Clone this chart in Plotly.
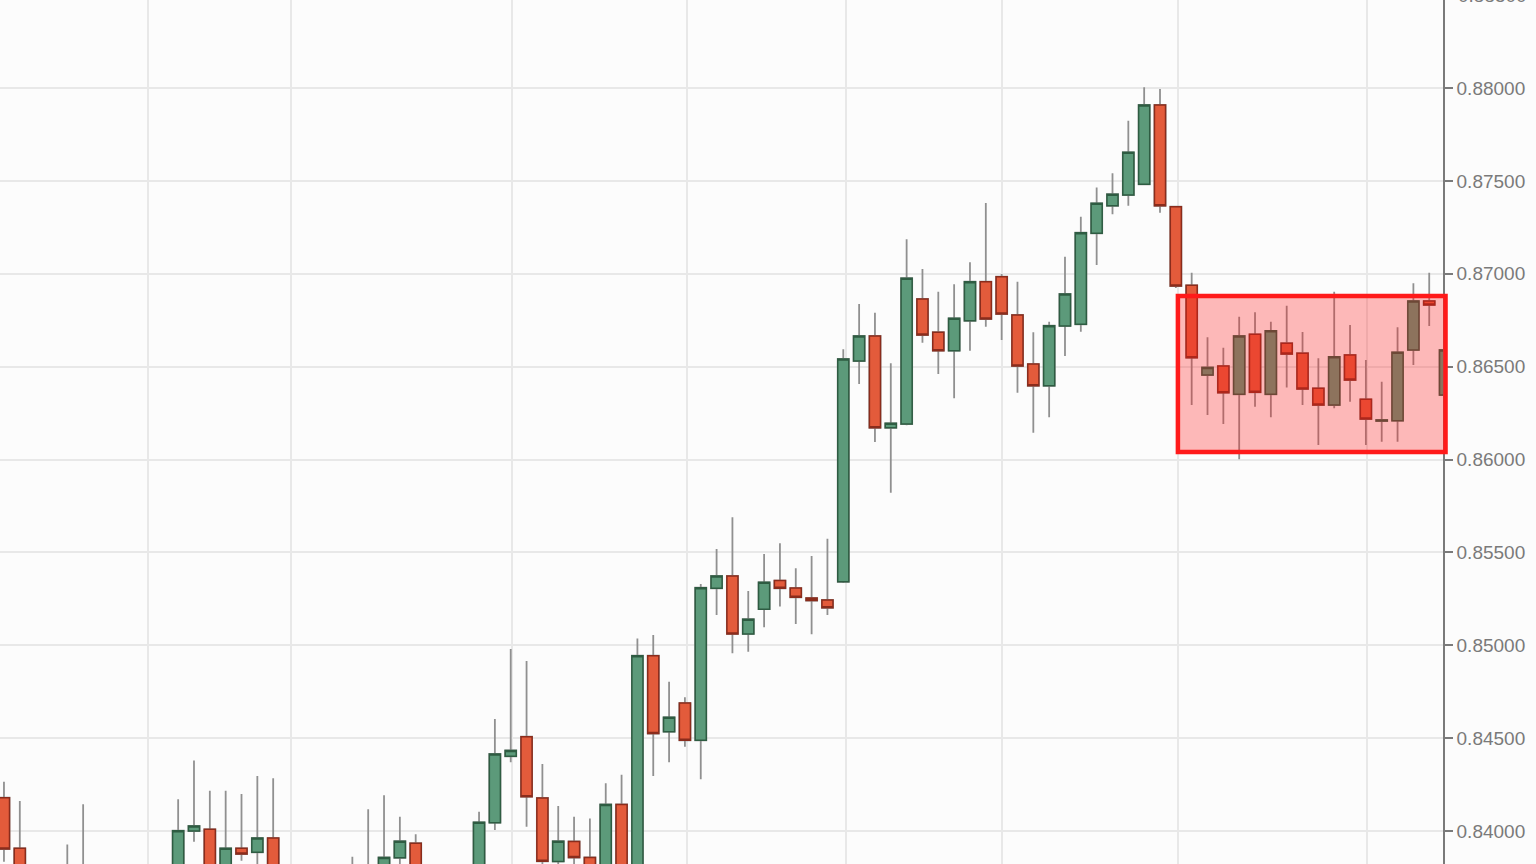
import plotly.graph_objects as go

# candle index (one per bar), OHLC
idx = list(range(92))
opens = [0.84179, 0.83907, 0.8372, 0.8358, 0.8370, 0.8378, 0.8372, 0.8360, 0.8368, 0.8362,
         0.8374, 0.8378, 0.84000, 0.84009, 0.8376, 0.83907, 0.83885, 0.83962, 0.8376, 0.8366,
         0.8356, 0.8364, 0.8375, 0.8370, 0.8377, 0.83856, 0.83934, 0.8372, 0.8364, 0.8356,
         0.8368, 0.84045, 0.84402, 0.84508, 0.84178, 0.83836, 0.83944, 0.83858, 0.8378, 0.84143,
         0.8376, 0.84944, 0.84535, 0.84689, 0.84488, 0.85307, 0.85373, 0.85061, 0.85194, 0.85348,
         0.85308, 0.85254, 0.85244, 0.85342, 0.86530, 0.86665, 0.86171, 0.86191, 0.86864, 0.86685,
         0.86586, 0.86747, 0.86957, 0.86984, 0.86778, 0.86514, 0.86397, 0.86719, 0.86728, 0.87218,
         0.87366, 0.87424, 0.87482, 0.87909, 0.87361, 0.86938, 0.86455, 0.86503, 0.86351, 0.86674,
         0.86351, 0.86626, 0.86572, 0.86383, 0.86293, 0.86563, 0.86324, 0.86207, 0.86209, 0.86590,
         0.86853, 0.86347]
highs = [0.84265, 0.84162, 0.8378, 0.8376, 0.83928, 0.84144, 0.8380, 0.8375, 0.8379, 0.8378,
         0.8381, 0.84171, 0.84379, 0.84217, 0.84217, 0.84199, 0.84296, 0.84284, 0.8381, 0.8378,
         0.8372, 0.8380, 0.83862, 0.84117, 0.84192, 0.84077, 0.83982, 0.8380, 0.8376, 0.8374,
         0.84104, 0.84603, 0.84980, 0.84915, 0.84361, 0.84135, 0.84077, 0.84068, 0.84257, 0.84303,
         0.85037, 0.85055, 0.84804, 0.84720, 0.85330, 0.85518, 0.85689, 0.85292, 0.85491, 0.85549,
         0.85414, 0.85481, 0.85574, 0.86593, 0.86837, 0.86790, 0.86518, 0.87186, 0.87026, 0.86903,
         0.86943, 0.87062, 0.87381, 0.86999, 0.86957, 0.86685, 0.86742, 0.87092, 0.87307, 0.87465,
         0.87541, 0.87824, 0.88004, 0.87995, 0.87365, 0.87006, 0.86658, 0.86602, 0.86769, 0.86793,
         0.86742, 0.86828, 0.86686, 0.86545, 0.86903, 0.86724, 0.86536, 0.86419, 0.86712, 0.86949,
         0.87006, 0.86590]
lows = [0.83835, 0.8365, 0.8350, 0.8345, 0.8360, 0.8362, 0.8355, 0.8348, 0.8356, 0.8352,
        0.8360, 0.8370, 0.83942, 0.8372, 0.8368, 0.83840, 0.8378, 0.8370, 0.8360, 0.8352,
        0.8346, 0.8357, 0.8366, 0.8362, 0.8370, 0.8380, 0.8365, 0.8358, 0.8350, 0.8348,
        0.8362, 0.84005, 0.84370, 0.84023, 0.8375, 0.8378, 0.8378, 0.8372, 0.8372, 0.8370,
        0.8370, 0.84296, 0.84370, 0.84454, 0.84278, 0.85163, 0.84957, 0.84965, 0.85097, 0.85208,
        0.85114, 0.85059, 0.85163, 0.85335, 0.86407, 0.86094, 0.85821, 0.86185, 0.86629, 0.86460,
        0.86330, 0.86586, 0.86715, 0.86643, 0.86360, 0.86144, 0.86227, 0.86557, 0.86688, 0.87047,
        0.87320, 0.87366, 0.87480, 0.87329, 0.86923, 0.86293, 0.86240, 0.86191, 0.86001, 0.86284,
        0.86227, 0.86387, 0.86293, 0.86078, 0.86276, 0.86311, 0.86078, 0.86096, 0.86096, 0.86509,
        0.86719, 0.86340]
closes = [0.83903, 0.8372, 0.8358, 0.8370, 0.8380, 0.8372, 0.8360, 0.8368, 0.8362, 0.8374,
          0.8378, 0.84002, 0.84027, 0.8378, 0.83907, 0.83876, 0.83962, 0.8376, 0.8366, 0.8356,
          0.8364, 0.8375, 0.8370, 0.8378, 0.83858, 0.83945, 0.8372, 0.8364, 0.8356, 0.8368,
          0.84047, 0.84415, 0.84434, 0.84185, 0.83837, 0.83945, 0.83857, 0.8378, 0.84143, 0.8376,
          0.84944, 0.84525, 0.84612, 0.84488, 0.85310, 0.85373, 0.85061, 0.85140, 0.85339, 0.85307,
          0.85258, 0.85241, 0.85202, 0.86541, 0.86665, 0.86171, 0.86195, 0.86976, 0.86670, 0.86586,
          0.86760, 0.86957, 0.86756, 0.86783, 0.86503, 0.86397, 0.86720, 0.86891, 0.87221, 0.87379,
          0.87428, 0.87654, 0.87909, 0.87366, 0.86934, 0.86548, 0.86496, 0.86360, 0.86665, 0.86362,
          0.86693, 0.86568, 0.86380, 0.86293, 0.86553, 0.86428, 0.86218, 0.86213, 0.86577, 0.86853,
          0.86832, 0.86590]

price_ticks = [0.840, 0.845, 0.850, 0.855, 0.860, 0.865, 0.870, 0.875, 0.880]
date_grid = [9.07, 18.1, 32.1, 43.1, 53.15, 63.05, 74.12, 86.05]

# highlighted range (index / price)
box_x = [74.13, 91.03]
box_y = [0.8604, 0.8688]

x_range = [-0.25, 90.87]
y_range = [0.838224, 0.884738]

body_top = [max(o, c) for o, c in zip(opens, closes)]
body_bot = [min(o, c) for o, c in zip(opens, closes)]

fig = go.Figure()

# wicks (grey)
fig.add_trace(go.Candlestick(
    x=idx, open=opens, high=highs, low=lows, close=closes,
    increasing=dict(line=dict(color='#909090', width=1.8), fillcolor='#909090'),
    decreasing=dict(line=dict(color='#909090', width=1.8), fillcolor='#909090'),
    whiskerwidth=0, hoverinfo='skip', showlegend=False))

# bodies on top
fig.add_trace(go.Candlestick(
    x=idx, open=opens, high=body_top, low=body_bot, close=closes,
    increasing=dict(line=dict(color='#2e5c42', width=1.5), fillcolor='#5c9a7a'),
    decreasing=dict(line=dict(color='#8a2c1c', width=1.5), fillcolor='#e35b3b'),
    whiskerwidth=0, showlegend=False))


def px(v):
    return (v - x_range[0]) / (x_range[1] - x_range[0])


def py(v):
    return (v - y_range[0]) / (y_range[1] - y_range[0])


fig.add_shape(type='rect', xref='paper', yref='paper',
              x0=px(box_x[0]), x1=px(box_x[1]), y0=py(box_y[0]), y1=py(box_y[1]),
              line=dict(color='#ff1a1a', width=4.5), fillcolor='rgba(255,25,25,0.30)',
              layer='above')

# partially cut label at the very top
fig.add_annotation(text='0.88500', xref='paper', yref='paper', x=1, y=py(0.885),
                   xanchor='left', yanchor='middle', xshift=13, showarrow=False,
                   font=dict(family='Liberation Sans', size=19, color='#7a7a7a'))

fig.update_layout(
    width=1536, height=864,
    margin=dict(l=0, r=93, t=0, b=0),
    paper_bgcolor='#fcfcfc', plot_bgcolor='#fcfcfc',
    boxgap=0.3, boxgroupgap=0,
    font=dict(family='Liberation Sans', size=19, color='#7a7a7a'),
    xaxis=dict(range=x_range, rangeslider=dict(visible=False), showgrid=True,
               gridcolor='#e8e8e8', gridwidth=1.5, tickvals=date_grid,
               showticklabels=False, ticks='', zeroline=False, showline=False),
    yaxis=dict(range=y_range, side='right', tickvals=price_ticks,
               ticktext=['%.5f' % v for v in price_ticks],
               showgrid=True, gridcolor='#e8e8e8', gridwidth=1.5,
               ticks='outside', ticklen=8, tickwidth=1.5, tickcolor='#7a7a7a',
               showline=True, linecolor='#7a7a7a', linewidth=1.5, zeroline=False),
)

fig.write_html('out.html', config={'displayModeBar': False},
               post_script="document.body.style.margin='0';")
